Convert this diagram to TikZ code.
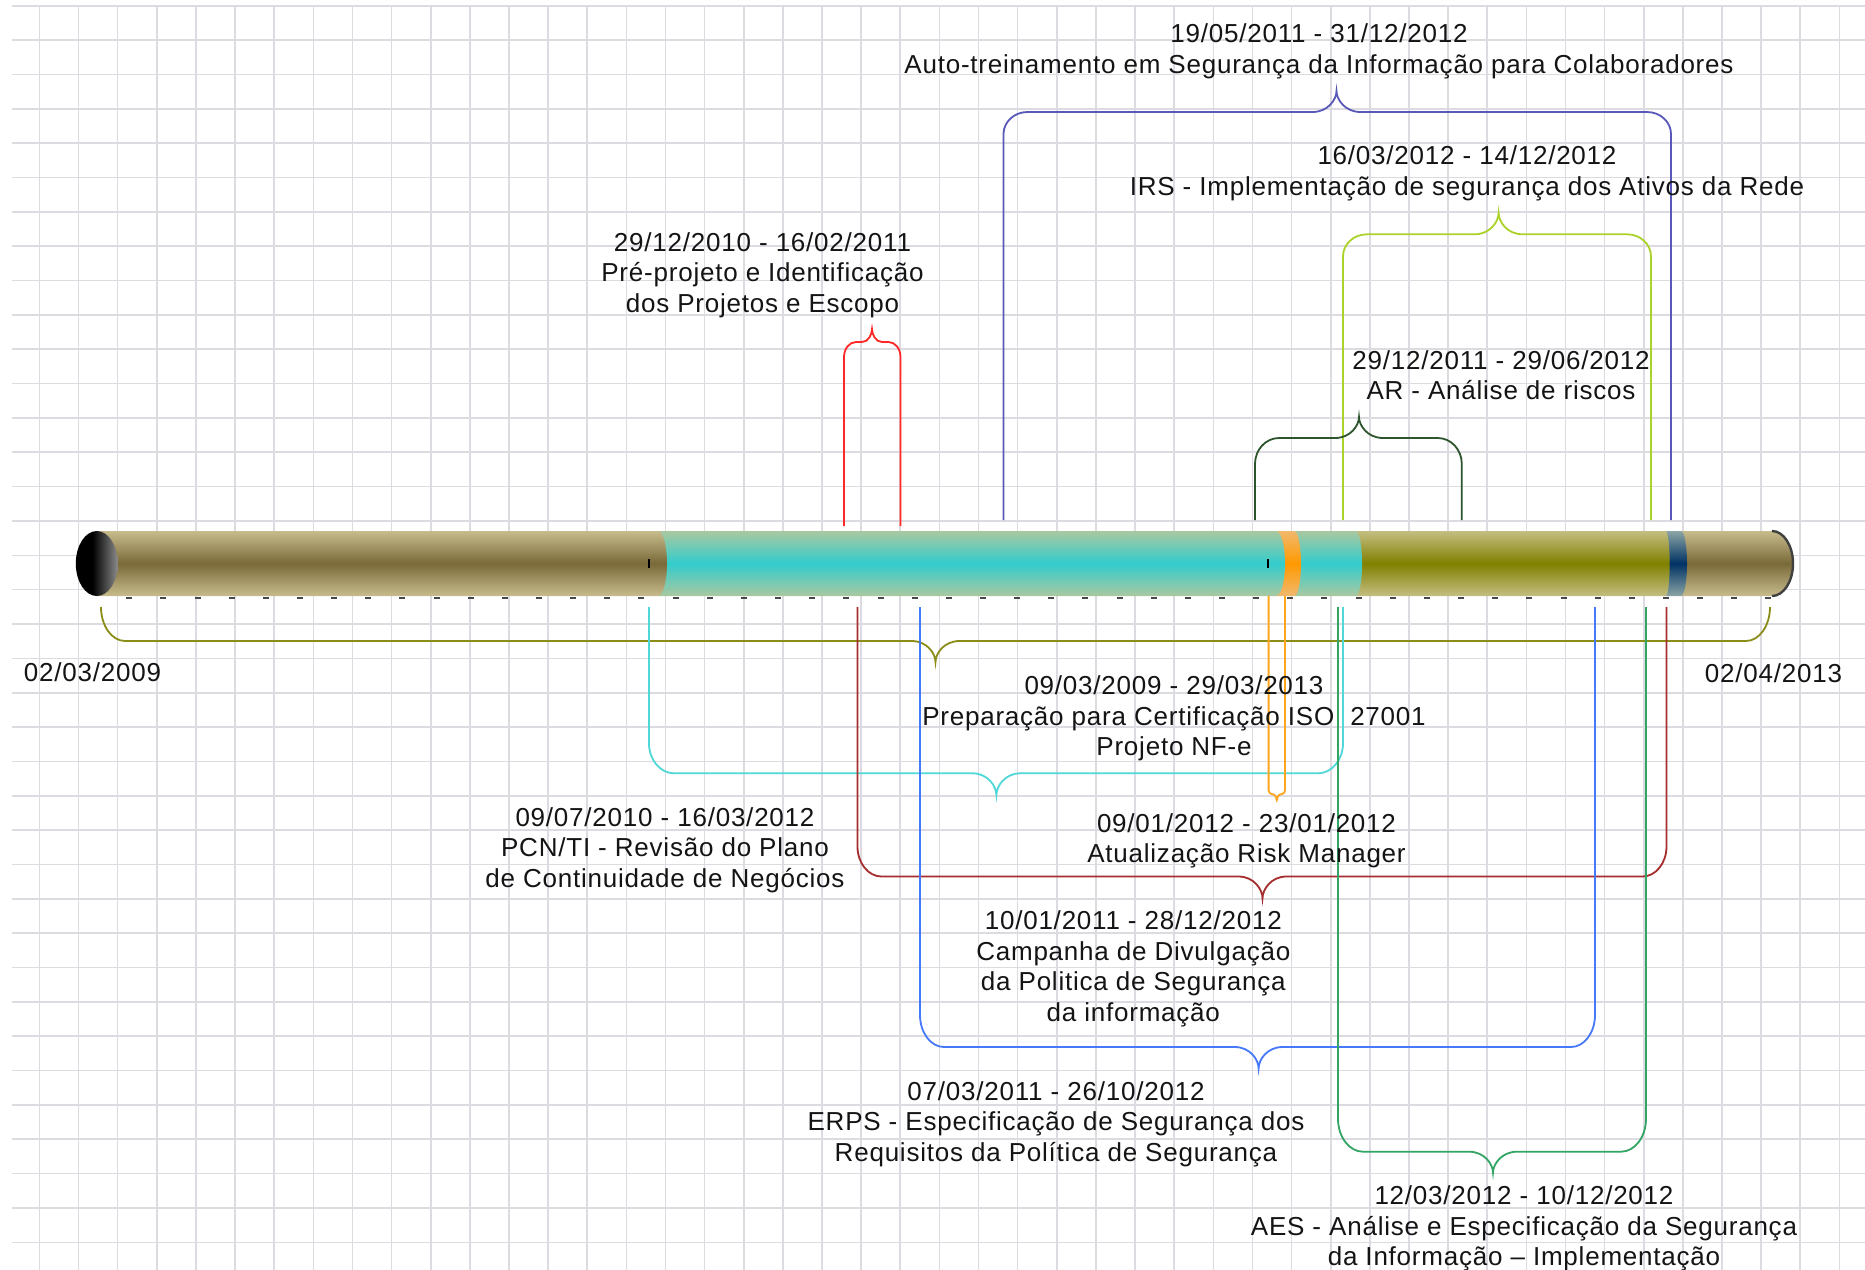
\documentclass[tikz,border=0pt]{standalone}
\usepackage{fontspec}
\setmainfont{Liberation Sans}[LetterSpace=3]
\usetikzlibrary{calc}
\definecolor{gridc}{RGB}{221,218,226}
\definecolor{cA}{RGB}{88,88,184}
\definecolor{cB}{RGB}{170,210,40}
\definecolor{cC}{RGB}{255,40,40}
\definecolor{cD}{RGB}{45,85,45}
\definecolor{cE}{RGB}{140,140,25}
\definecolor{cF}{RGB}{80,215,215}
\definecolor{cG}{RGB}{255,165,30}
\definecolor{cH}{RGB}{165,45,45}
\definecolor{cI}{RGB}{70,120,250}
\definecolor{cJ}{RGB}{50,165,100}
\definecolor{khE}{RGB}{200,188,140}
\definecolor{khM}{RGB}{122,106,58}
\definecolor{cyE}{RGB}{170,200,160}
\definecolor{cyM}{RGB}{50,205,205}
\definecolor{olE}{RGB}{196,190,130}
\definecolor{olM}{RGB}{128,128,0}
\definecolor{dbE}{RGB}{140,165,165}
\definecolor{dbM}{RGB}{0,50,100}
\definecolor{orE}{RGB}{240,185,110}
\definecolor{orM}{RGB}{255,153,0}
\pgfdeclarehorizontalshading{capsh}{100bp}{color(0bp)=(black); color(45bp)=(black); color(100bp)=(white)}
\tikzset{
  gridl/.style={draw=gridc, line width=0.8pt},
  brc/.style={line width=0.9pt},
  lbl/.style={font=\fontsize{13}{15.3}\selectfont, align=center, inner sep=0pt, text=black!92},
  tickm/.style={draw=black!72, line width=1pt},
}
% bar segment: x0, x1, bulge, edge colour, centre colour
\newcommand{\barseg}[5]{%
  \pgfmathsetmacro{\sA}{#2+#3*0.552}%
  \pgfmathsetmacro{\sB}{#2+#3}%
  \shade[top color=#4, bottom color=#4, middle color=#5]
    (#1,531) -- (#2,531) .. controls (\sA,531) and (\sB,545.56) .. (\sB,563.5)
    .. controls (\sB,581.44) and (\sA,596) .. (#2,596) -- (#1,596) -- cycle;}
% brace: colour, xL, xR, yEnd, yh, xm, yp, rx, ry ; \bw = half width of the point
\newcommand{\tlbrace}[9]{%
  \pgfmathsetmacro{\bDd}{ifthenelse(#4>#5,1,-1)}%
  \pgfmathsetmacro{\bYa}{#5+\bDd*#9}%
  \pgfmathsetmacro{\bYb}{#5+\bDd*#9*0.448}%
  \pgfmathsetmacro{\bXa}{#2+#8*0.448}%
  \pgfmathsetmacro{\bXb}{#2+#8}%
  \pgfmathsetmacro{\bXc}{#3-#8*0.448}%
  \pgfmathsetmacro{\bXd}{#3-#8}%
  \pgfmathsetmacro{\bPl}{#6-\bw}%
  \pgfmathsetmacro{\bPlc}{#6-\bw*0.35}%
  \pgfmathsetmacro{\bPr}{#6+\bw}%
  \pgfmathsetmacro{\bPrc}{#6+\bw*0.35}%
  \pgfmathsetmacro{\bPyc}{#7+(#5-#7)*0.4}%
  \draw[brc, draw=#1] (#2,#4) -- (#2,\bYa) .. controls (#2,\bYb) and (\bXa,#5) .. (\bXb,#5)
    -- (\bPl,#5) .. controls (\bPlc,#5) and (#6,\bPyc) .. (#6,#7)
    .. controls (#6,\bPyc) and (\bPrc,#5) .. (\bPr,#5)
    -- (\bXd,#5) .. controls (\bXc,#5) and (#3,\bYb) .. (#3,\bYa) -- (#3,#4);}
\begin{document}
\begin{tikzpicture}[x=0.5pt,y=-0.5pt]
\useasboundingbox (0,0) rectangle (1865,1270);
\fill[white] (0,0) rectangle (1865,1270);
% grid
\foreach \k in {0,...,46} {
  \pgfmathsetmacro{\gx}{39.4+39.13*\k}
  \draw[gridl] (\gx,5.7) -- (\gx,1270);
}
\foreach \k in {0,...,36} {
  \pgfmathsetmacro{\gy}{5.7+34.35*\k}
  \draw[gridl] (12,\gy) -- (1865,\gy);
}
% timeline bar (right to left)
\barseg{1681}{1772}{21}{khE}{khM}
\barseg{1665.7}{1681}{6}{dbE}{dbM}
\barseg{1356}{1665.7}{4}{olE}{olM}
\barseg{1294}{1356}{6}{cyE}{cyM}
\barseg{1276}{1294}{7}{orE}{orM}
\barseg{658}{1276}{9}{cyE}{cyM}
\barseg{97}{658}{9}{khE}{khM}
\draw[black!75, line width=1.2pt] (1772,531) .. controls (1783.6,531) and (1793,545.56) .. (1793,563.5)
  .. controls (1793,581.44) and (1783.6,596) .. (1772,596);
\shade[shading=capsh] (96.8,563.5) ellipse [x radius=10.5pt, y radius=16.25pt];
\draw[black, line width=0.8pt] (649,559) -- (649,568);
\draw[black, line width=0.8pt] (1268,559) -- (1268,568);
\foreach \k in {0,...,48} {
  \pgfmathsetmacro{\tx}{129.2+34.15*\k}
  \draw[tickm] (\tx-3,597.5) -- (\tx+3,597.5);
}
% braces
\def\bw{24}
\tlbrace{cA}{1003.5}{1671}{520}{112}{1336.5}{91}{24}{22}
\tlbrace{cB}{1343}{1651}{520}{234.3}{1498.6}{213}{24}{22}
\tlbrace{cD}{1255}{1461.8}{520}{438}{1359}{417}{24}{26}
\tlbrace{cE}{101}{1770}{607}{641}{935.5}{662}{24}{34}
\tlbrace{cF}{649}{1343}{607}{773.3}{996.4}{795}{25}{30}
\tlbrace{cH}{857.5}{1666.5}{607}{876.5}{1262.5}{898.3}{24}{30}
\tlbrace{cI}{920}{1595}{607}{1047}{1258.6}{1068.3}{24}{32}
\tlbrace{cJ}{1338}{1646}{607}{1151.7}{1493}{1172.7}{25}{33}
\def\bw{10}
\tlbrace{cC}{844}{900.5}{526}{342}{872}{329}{12}{15}
\def\bw{5}
\tlbrace{cG}{1268.6}{1285}{596}{794}{1276.8}{800}{3}{4}
% labels
\node[lbl,anchor=north] (tA) at (1319,23.5) {19/05/2011 - 31/12/2012\\Auto-treinamento em Segurança da Informação para Colaboradores};
\node[lbl,anchor=north] (tB) at (1467,145.5) {16/03/2012 - 14/12/2012\\IRS - Implementação de segurança dos Ativos da Rede};
\node[lbl,anchor=north] (tC) at (762.5,232) {29/12/2010 - 16/02/2011\\Pré-projeto e Identificação\\dos Projetos e Escopo};
\node[lbl,anchor=north] (tD) at (1501,350) {29/12/2011 - 29/06/2012\\AR - Análise de riscos};
\node[lbl] (tS) at (92.5,672.5) {02/03/2009};
\node[lbl] (tE) at (1773.5,673.3) {02/04/2013};
\node[lbl,anchor=north] (tF) at (1174,675.5) {09/03/2009 - 29/03/2013\\Preparação para Certificação ISO\ \ 27001\\Projeto NF-e};
\node[lbl,anchor=north] (tG) at (665,807) {09/07/2010 - 16/03/2012\\PCN/TI - Revisão do Plano\\de Continuidade de Negócios};
\node[lbl,anchor=north] (tH) at (1246.5,813) {09/01/2012 - 23/01/2012\\Atualização Risk Manager};
\node[lbl,anchor=north] (tI) at (1133.3,910.5) {10/01/2011 - 28/12/2012\\Campanha de Divulgação\\da Politica de Segurança\\da informação};
\node[lbl,anchor=north] (tJ) at (1056,1081) {07/03/2011 - 26/10/2012\\ERPS - Especificação de Segurança dos\\Requisitos da Política de Segurança};
\node[lbl,anchor=north] (tK) at (1524,1185.5) {12/03/2012 - 10/12/2012\\AES - Análise e Especificação da Segurança\\da Informação – Implementação};
\end{tikzpicture}
\end{document}
